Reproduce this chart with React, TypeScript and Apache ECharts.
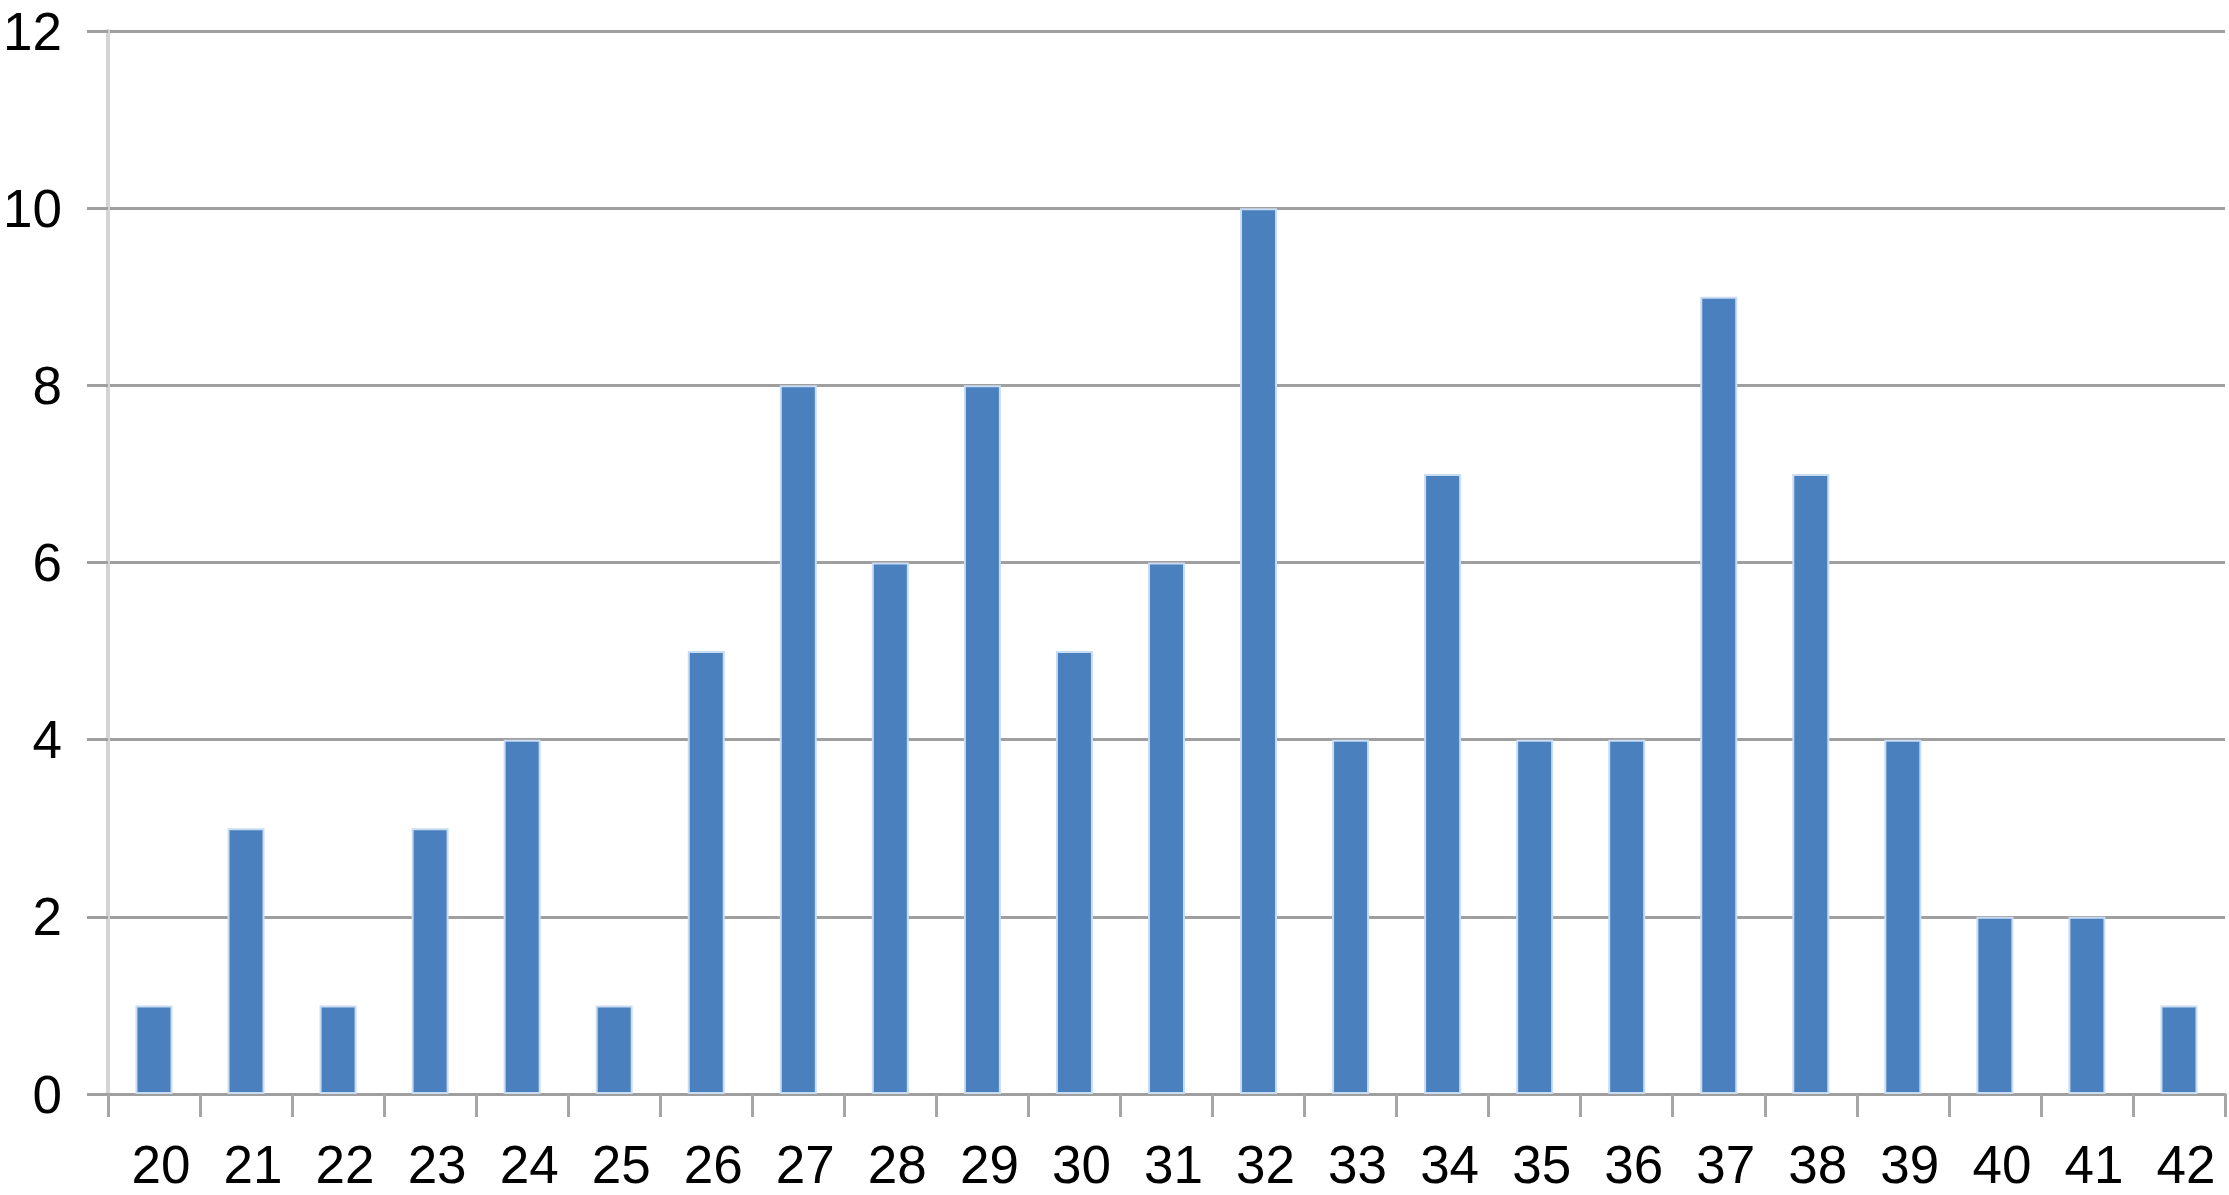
import React, { useEffect, useRef } from "react";
import * as echarts from "echarts";

const categories = ["20","21","22","23","24","25","26","27","28","29","30","31","32","33","34","35","36","37","38","39","40","41","42"];
const counts = [1, 3, 1, 3, 4, 1, 5, 8, 6, 8, 5, 6, 10, 4, 7, 4, 4, 9, 7, 4, 2, 2, 1];
const yMin = 0;
const yMax = 12;
const yStep = 2;

export default function App() {
  const ref = useRef<HTMLDivElement>(null);
  useEffect(() => {
    if (!ref.current) return;
    const chart = echarts.init(ref.current, null, { renderer: "svg" });
    const font = "'Liberation Sans', Arial, Helvetica, sans-serif";
    chart.setOption({
      animation: false,
      backgroundColor: "#ffffff",
      grid: { left: 106, top: 31, right: 4, bottom: 101, containLabel: false },
      xAxis: {
        type: "category",
        data: categories,
        boundaryGap: true,
        axisLine: { show: true, lineStyle: { color: "#9f9f9f", width: 3 } },
        axisTick: { show: true, interval: 0, length: 23, lineStyle: { color: "#a6a6a6", width: 3 } },
        axisLabel: { interval: 0, margin: 44, fontSize: 53, color: "#000000", fontFamily: font, padding: [0, 0, 0, 14] },
        splitLine: { show: false },
      },
      yAxis: {
        type: "value",
        min: yMin,
        max: yMax,
        interval: yStep,
        axisLine: { show: true, lineStyle: { color: "#d4d4d4", width: 4 } },
        axisTick: { show: true, length: 21, lineStyle: { color: "#9f9f9f", width: 3 } },
        axisLabel: { margin: 46, fontSize: 53, color: "#000000", fontFamily: font },
        splitLine: { show: true, lineStyle: { color: "#9f9f9f", width: 3 } },
      },
      series: [
        {
          type: "bar",
          data: counts,
          barWidth: 37,
          itemStyle: { color: "#4a80bd", borderColor: "#c9dcf2", borderWidth: 2 },
        },
      ],
    });
    return () => chart.dispose();
  }, []);
  return (
    <div
      ref={ref}
      style={{ position: "fixed", left: 0, top: 0, width: 2229, height: 1195, background: "#ffffff" }}
    />
  );
}
